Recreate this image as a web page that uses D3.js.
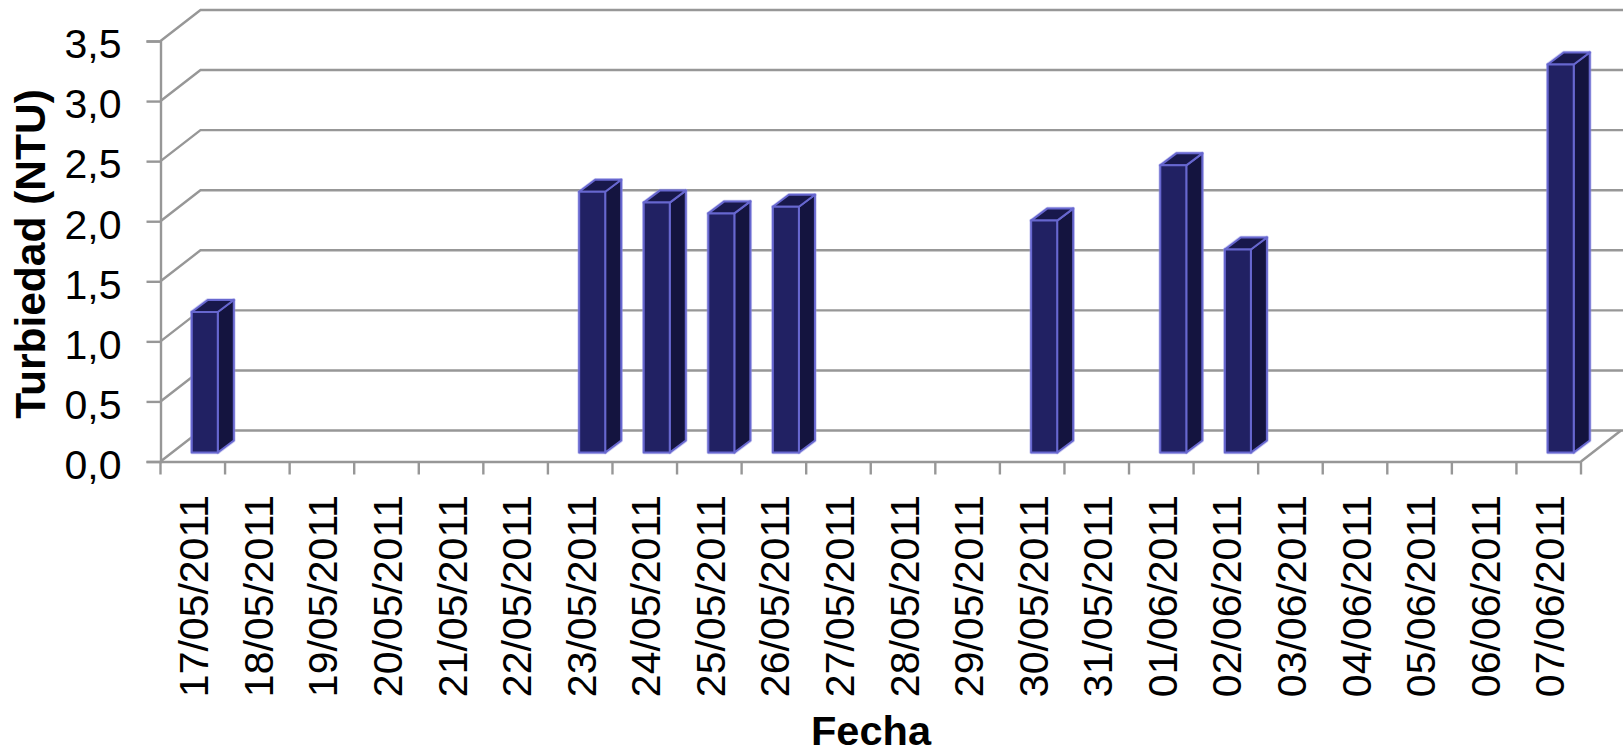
<!DOCTYPE html>
<html>
<head>
<meta charset="utf-8">
<script src="https://cdn.jsdelivr.net/npm/d3@7"></script>
<style>
  html, body { margin: 0; padding: 0; background: #fff; overflow: hidden; }
  text { font-family: "Liberation Sans", Arial, sans-serif; fill: #000; }
</style>
</head>
<body>
<div id="chart"></div>
<script>
const fechas = ["17/05/2011","18/05/2011","19/05/2011","20/05/2011","21/05/2011","22/05/2011",
  "23/05/2011","24/05/2011","25/05/2011","26/05/2011","27/05/2011","28/05/2011","29/05/2011",
  "30/05/2011","31/05/2011","01/06/2011","02/06/2011","03/06/2011","04/06/2011","05/06/2011",
  "06/06/2011","07/06/2011"];
const turbiedad = [1.17,null,null,null,null,null,2.17,2.08,1.99,2.045,null,null,null,1.93,null,2.39,1.69,null,null,null,null,3.23];
const yTicks = [0,0.5,1,1.5,2,2.5,3,3.5];

const width = 1623, height = 750;
const gridColor = "#979797";

const svg = d3.select("#chart").append("svg")
  .attr("width", width)
  .attr("height", height)
  .style("display", "block");

const x = d3.scaleBand().domain(fechas).range([160.5, 1581]);
const y = d3.scaleLinear().domain([0, 3.5]).range([461.5, 41]);

// depth of the 3d box, and of the bars inside it
const wallX = 40, wallY = -31;
const barInY = -9;
const barDepthX = 16, barDepthY = -12;
const barW = 26;

const coma = d => d3.format(".1f")(d).replace(".", ",");

// side wall and back wall lines
const grid = svg.append("g")
  .attr("fill", "none")
  .attr("stroke", gridColor)
  .attr("stroke-width", 2.4);

grid.selectAll(".wall")
  .data(yTicks)
  .enter()
  .append("path")
  .attr("d", d => d3.line()([
    [x.range()[0], y(d)],
    [x.range()[0] + wallX, y(d) + wallY],
    [width, y(d) + wallY]
  ]));

// floor
grid.append("path")
  .attr("d", d3.line()([
    [x.range()[1], y(0)],
    [x.range()[1] + wallX, y(0) + wallY]
  ]));

// axes
const yAxis = svg.append("g")
  .attr("transform", `translate(${x.range()[0]},0)`)
  .call(d3.axisLeft(y).tickValues(yTicks).tickFormat(coma).tickSize(14).tickPadding(25));
yAxis.selectAll("line").attr("stroke", gridColor).attr("stroke-width", 2.4);
yAxis.select(".domain").attr("stroke", gridColor).attr("stroke-width", 2.4);
yAxis.selectAll("text").attr("font-size", 41).attr("dy", "0.41em");

const xAxis = svg.append("g")
  .attr("transform", `translate(0,${y(0)})`)
  .call(d3.axisBottom(x).tickSize(0).tickFormat(""));
xAxis.select(".domain").attr("stroke", gridColor).attr("stroke-width", 2.4);

xAxis.selectAll(".edge")
  .data(d3.range(fechas.length + 1))
  .enter()
  .append("line")
  .attr("x1", i => x.range()[0] + i * x.step())
  .attr("x2", i => x.range()[0] + i * x.step())
  .attr("y1", 0)
  .attr("y2", 13)
  .attr("stroke", gridColor)
  .attr("stroke-width", 2.4);

svg.append("g").selectAll("text")
  .data(fechas)
  .enter()
  .append("text")
  .attr("text-anchor", "end")
  .attr("font-size", 41)
  .attr("transform", d => `translate(${x(d) + x.bandwidth() / 2 + 15.5},495) rotate(-90)`)
  .text(d => d);

// Bars
const datos = fechas.map((f, i) => ({fecha: f, valor: turbiedad[i]})).filter(d => d.valor != null);
const bars = svg.append("g")
  .attr("stroke-linejoin", "round");

const faces = d => {
  const x0 = x(d.fecha) + x.bandwidth() / 2 - 1;
  const x1 = x0 + barW;
  const y0 = y(0) + barInY;
  const y1 = y(d.valor) + barInY;
  return {
    front: [[x0,y1],[x1,y1],[x1,y0],[x0,y0]],
    side: [[x1,y1],[x1+barDepthX,y1+barDepthY],[x1+barDepthX,y0+barDepthY],[x1,y0]],
    top: [[x0,y1],[x0+barDepthX,y1+barDepthY],[x1+barDepthX,y1+barDepthY],[x1,y1]]
  };
};
const outline = p => d3.line()(p) + "Z";

const caras = [["side", "#14143f"], ["top", "#18184b"], ["front", "#212163"]];
caras.forEach(([face]) => {
  // soft edge around the bars
  bars.selectAll(".halo-" + face)
    .data(datos)
    .enter()
    .append("path")
    .attr("d", d => outline(faces(d)[face]))
    .attr("fill", "none")
    .attr("stroke", "#9a9ae6")
    .attr("stroke-opacity", 0.5)
    .attr("stroke-width", 3.5);
});
caras.forEach(([face, fill]) => {
  bars.selectAll(".cara-" + face)
    .data(datos)
    .enter()
    .append("path")
    .attr("d", d => outline(faces(d)[face]))
    .attr("fill", fill)
    .attr("stroke", "#6767cf")
    .attr("stroke-width", 2);
});

// axis titles
svg.append("text")
  .attr("transform", "translate(45,254) rotate(-90)")
  .attr("text-anchor", "middle")
  .attr("font-size", 42.5)
  .attr("font-weight", "bold")
  .text("Turbiedad (NTU)");

svg.append("text")
  .attr("x", 871)
  .attr("y", 745)
  .attr("text-anchor", "middle")
  .attr("font-size", 41.5)
  .attr("font-weight", "bold")
  .text("Fecha");
</script>
</body>
</html>
